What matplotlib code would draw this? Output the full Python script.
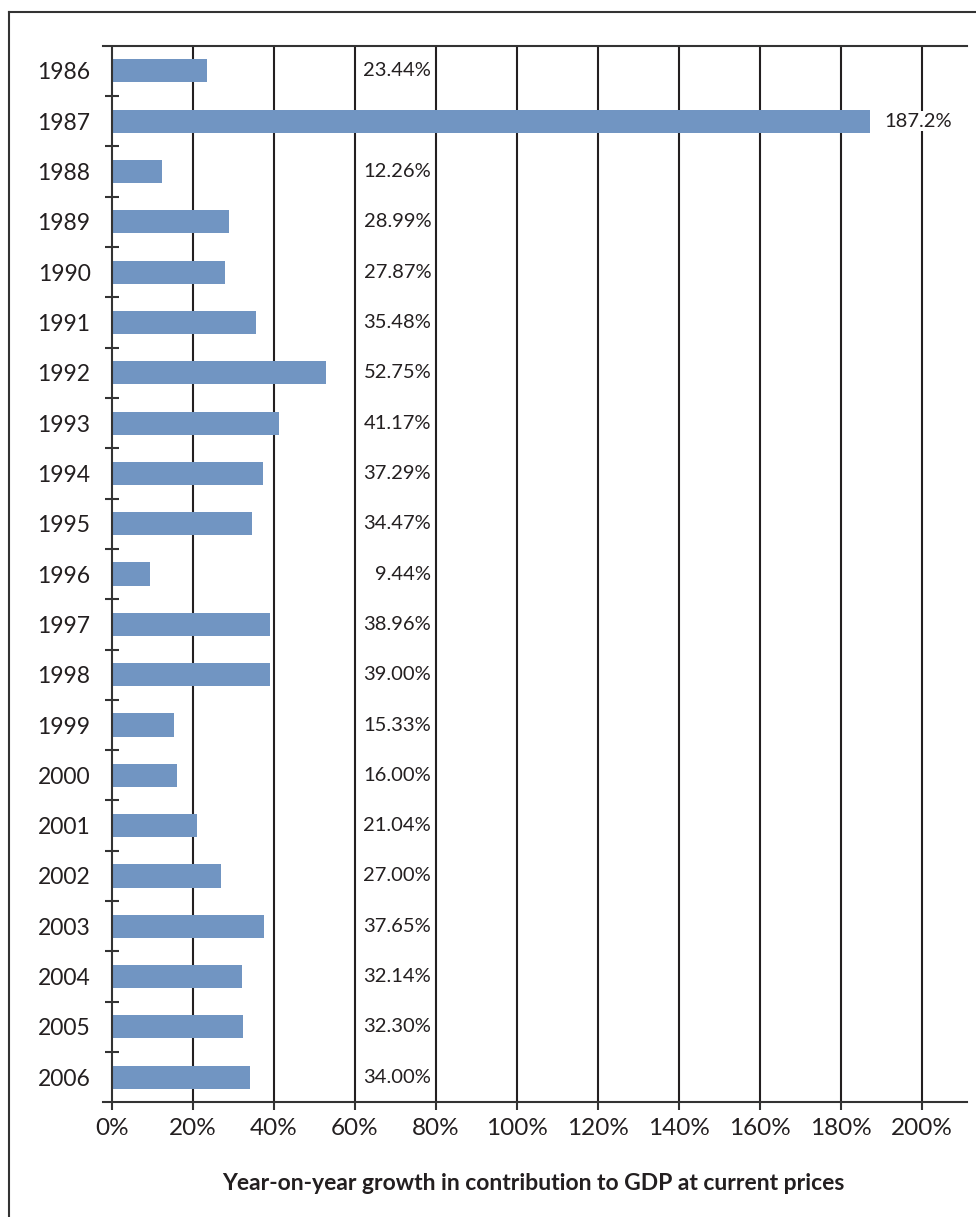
import matplotlib
matplotlib.use('Agg')
import matplotlib.pyplot as plt
from matplotlib.lines import Line2D
import numpy as np

plt.rcParams['font.family'] = ['Lato', 'DejaVu Sans']

years = ['1986', '1987', '1988', '1989', '1990', '1991', '1992', '1993', '1994',
         '1995', '1996', '1997', '1998', '1999', '2000', '2001', '2002', '2003',
         '2004', '2005', '2006']
growth = [23.44, 187.2, 12.26, 28.99, 27.87, 35.48, 52.75, 41.17, 37.29,
          34.47, 9.44, 38.96, 39.00, 15.33, 16.00, 21.04, 27.00, 37.65,
          32.14, 32.30, 34.00]
growth_labels = ['23.44%', '187.2%', '12.26%', '28.99%', '27.87%', '35.48%',
                 '52.75%', '41.17%', '37.29%', '34.47%', '9.44%', '38.96%',
                 '39.00%', '15.33%', '16.00%', '21.04%', '27.00%', '37.65%',
                 '32.14%', '32.30%', '34.00%']
xticks = [0, 20, 40, 60, 80, 100, 120, 140, 160, 180, 200]
xlabel = 'Year-on-year growth in contribution to GDP at current prices'

bar_color = '#7195c2'
ink = '#231f20'

fig = plt.figure(figsize=(9.76, 12.17), dpi=100)
ax = fig.add_axes([0.1056, 0.0942, 0.8848, 0.8682])

ypos = np.arange(len(years))
ax.barh(ypos, growth, height=0.46, color=bar_color, zorder=3)

# vertical grid lines
for t in xticks[1:]:
    ax.axvline(t, color=ink, lw=1.5, zorder=1)
ax.axvline(0, color='#333333', lw=1.5, zorder=4)

# short ticks across the value axis between categories
ax.hlines(ypos[:-1] + 0.5, -1.7, 1.7, color='#333333', lw=1.5, zorder=4)

# value labels
for y, v, lab in zip(ypos, growth, growth_labels):
    if v > 75:
        ax.text(v + 3.5, y, lab, ha='left', va='center', fontsize=14.5, color=ink,
                zorder=5, bbox=dict(facecolor='white', edgecolor='none', pad=1))
    else:
        ax.text(78.8, y, lab, ha='right', va='center', fontsize=14.5, color=ink,
                zorder=5)

ax.set_xlim(-2.2, 211)
ax.set_ylim(len(years) - 0.5, -0.5)

ax.set_yticks(ypos)
ax.set_yticklabels(years, fontsize=16.5, color=ink)
ax.tick_params(axis='y', length=0, pad=9)

ax.set_xticks(xticks)
ax.set_xticklabels(['{}%'.format(t) for t in xticks], fontsize=17.5, color=ink)
ax.tick_params(axis='x', direction='out', length=6, width=1.5, color='#333333', pad=5)

for side in ['left', 'right']:
    ax.spines[side].set_visible(False)
for side in ['top', 'bottom']:
    ax.spines[side].set_color('#333333')
    ax.spines[side].set_linewidth(1.5)

fig.text(533 / 976, 1 - 1183 / 1217, xlabel, ha='center', va='center',
         fontsize=16.5, fontweight='bold', color=ink)

# outer frame (left and top edges visible)
fig.add_artist(Line2D([9 / 976, 9 / 976], [0, 1 - 12 / 1217], transform=fig.transFigure,
                      color='#333333', lw=1.5))
fig.add_artist(Line2D([9 / 976, 1], [1 - 12 / 1217, 1 - 12 / 1217], transform=fig.transFigure,
                      color='#333333', lw=1.5))

fig.savefig('out.png', dpi=100)
